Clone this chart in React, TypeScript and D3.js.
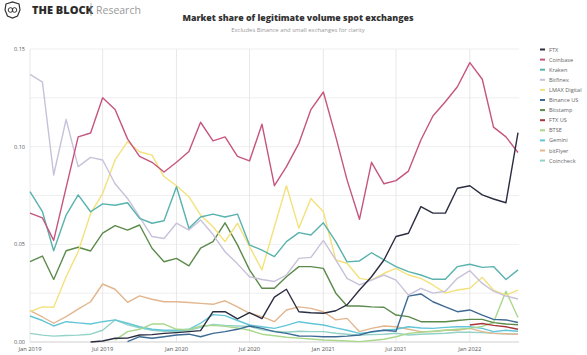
import React from "react";
import * as d3 from "d3";

const months = [
  "2019-01","2019-02","2019-03","2019-04","2019-05","2019-06","2019-07","2019-08","2019-09","2019-10","2019-11","2019-12",
  "2020-01","2020-02","2020-03","2020-04","2020-05","2020-06","2020-07","2020-08","2020-09","2020-10","2020-11","2020-12",
  "2021-01","2021-02","2021-03","2021-04","2021-05","2021-06","2021-07","2021-08","2021-09","2021-10","2021-11","2021-12",
  "2022-01","2022-02","2022-03","2022-04","2022-05",
];

const N = null;

const ftx = [N,N,N,N,N,0.0,0.0005,0.0019,0.002,0.0036,0.0038,0.0044,0.0048,0.0053,0.0058,0.0155,0.0155,0.0118,0.015,0.012,0.023,0.027,0.0155,0.015,0.0147,0.016,0.019,0.0266,0.0334,0.042,0.054,0.0557,0.0693,0.066,0.066,0.0787,0.08,0.0753,0.0732,0.0713,0.1072];
const coinbase = [0.066,0.0635,0.052,0.079,0.105,0.107,0.125,0.119,0.104,0.095,0.092,0.087,0.092,0.0975,0.1125,0.103,0.105,0.095,0.0927,0.1115,0.08,0.0898,0.1017,0.119,0.128,0.105,0.083,0.0628,0.092,0.081,0.0826,0.0875,0.1034,0.1157,0.123,0.1307,0.143,0.1345,0.11,0.105,0.097];
const kraken = [0.077,0.0667,0.0467,0.065,0.0753,0.0667,0.0707,0.07,0.0713,0.0633,0.0608,0.0621,0.0795,0.0582,0.064,0.0655,0.064,0.0655,0.0497,0.047,0.0437,0.0514,0.056,0.0548,0.061,0.0514,0.041,0.0415,0.0457,0.042,0.0386,0.036,0.0343,0.0321,0.0321,0.0386,0.0398,0.0382,0.0386,0.032,0.0369];
const bitfinex = [0.137,0.133,0.0855,0.114,0.0898,0.0945,0.0932,0.081,0.0735,0.064,0.054,0.053,0.0608,0.0573,0.0625,0.055,0.0462,0.04,0.0334,0.032,0.031,0.0343,0.0428,0.0433,0.052,0.042,0.0326,0.0292,0.0317,0.0343,0.0317,0.024,0.0275,0.025,0.026,0.0326,0.0365,0.03,0.026,0.0235,0.022];
const lmax = [0.0155,0.018,0.0178,0.0334,0.0462,0.0658,0.076,0.0932,0.1026,0.0974,0.0957,0.0847,0.08,0.0744,0.065,0.059,0.0514,0.0608,0.0488,0.0369,0.059,0.08,0.0583,0.0735,0.0667,0.042,0.0403,0.0326,0.0317,0.0352,0.0377,0.0343,0.0326,0.0292,0.025,0.0266,0.0275,0.0331,0.0266,0.024,0.0266];
const binanceUS = [N,N,N,N,N,N,N,N,0.0002,0.0027,0.0019,0.0027,0.0036,0.004,0.0027,0.0044,0.0053,0.0065,0.0082,0.007,0.0053,0.0044,0.0031,0.003,0.0027,0.0027,0.003,0.0036,0.0053,0.006,0.0055,0.0235,0.0246,0.0206,0.018,0.0155,0.0164,0.0138,0.0116,0.0113,0.01];
const bitstamp = [0.0411,0.044,0.032,0.0467,0.0485,0.0466,0.0557,0.0596,0.0573,0.0599,0.048,0.0411,0.0428,0.039,0.048,0.0514,0.061,0.0497,0.0369,0.0275,0.0275,0.0334,0.0386,0.0386,0.0377,0.025,0.0184,0.0184,0.018,0.0178,0.0138,0.013,0.0104,0.0104,0.0104,0.011,0.0116,0.0116,0.0099,0.0092,0.0088];
const ftxUS = [N,N,N,N,N,N,N,N,N,N,N,N,N,N,N,N,N,N,N,N,N,N,N,N,N,N,N,N,N,N,N,N,N,N,N,N,0.0087,0.0095,0.0085,0.0078,0.0065];
const btse = [N,N,N,N,N,N,N,0.001,0.0053,0.0065,0.0092,0.0092,0.0065,0.0063,0.0082,0.0085,0.008,0.0072,0.006,0.004,0.0032,0.0024,0.002,0.0015,0.001,0.0008,0.0005,0.0002,0.0008,0.0014,0.0027,0.0044,0.005,0.0055,0.006,0.0065,0.007,0.008,0.01,0.026,0.0125];
const gemini = [0.0133,0.011,0.0082,0.0104,0.0098,0.0092,0.0104,0.0113,0.0096,0.0078,0.0065,0.006,0.006,0.0065,0.0096,0.014,0.0135,0.011,0.0087,0.0078,0.007,0.0085,0.0104,0.0095,0.0087,0.0072,0.006,0.0044,0.005,0.006,0.0065,0.0078,0.0072,0.007,0.0075,0.0078,0.0078,0.007,0.0053,0.006,0.0055];
const bitflyer = [0.016,0.0128,0.0096,0.013,0.0168,0.0206,0.0297,0.027,0.0203,0.0236,0.0219,0.0206,0.0206,0.0202,0.0198,0.0193,0.0211,0.018,0.0147,0.013,0.0104,0.0164,0.018,0.0172,0.0155,0.0113,0.0121,0.0053,0.007,0.0082,0.0078,0.0065,0.0053,0.0053,0.006,0.006,0.007,0.0053,0.0044,0.0042,0.004];
const coincheck = [0.0044,0.0035,0.003,0.0033,0.0035,0.004,0.006,0.0113,0.0088,0.0072,0.006,0.0055,0.0055,0.006,0.0075,0.009,0.0085,0.0082,0.008,0.0062,0.0055,0.005,0.0055,0.0053,0.0053,0.0045,0.004,0.0035,0.0038,0.004,0.0045,0.0036,0.004,0.0042,0.0045,0.005,0.005,0.0048,0.0045,0.0042,0.004];

const seriesNames = ["FTX","Coinbase","Kraken","Bitfinex","LMAX Digital","Binance US","Bitstamp","FTX US","BTSE","Gemini","bitFlyer","Coincheck"];
const seriesValues = [ftx, coinbase, kraken, bitfinex, lmax, binanceUS, bitstamp, ftxUS, btse, gemini, bitflyer, coincheck];
const seriesColors = ["#2b2d40","#c5557f","#58b2ad","#c8c1da","#f3e27c","#3e6a93","#5c8a4b","#a8363c","#a9d88c","#62c6d8","#e2b68e","#92d2c7"];

const yTicks = [0, 0.05, 0.1, 0.15];
const yGrid = [0, 0.025, 0.05, 0.075, 0.1, 0.125, 0.15];
const xTickLabels = ["Jan 2019","Jul 2019","Jan 2020","Jul 2020","Jan 2021","Jul 2021","Jan 2022"];
const xTickDates = ["2019-01","2019-07","2020-01","2020-07","2021-01","2021-07","2022-01"];

const parse = d3.utcParse("%Y-%m");

export default function App() {
  const W = 587, H = 355;
  const x = d3.scaleUtc().domain([parse("2019-01")!, parse("2022-05")!]).range([30, 518]);
  const y = d3.scaleLinear().domain([0, 0.15]).range([342, 49]);
  const xEnd = 519;
  const dates = months.map((m) => parse(m)!);
  const line = d3
    .line<number | null>()
    .defined((d) => d !== null)
    .x((_, i) => x(dates[i]))
    .y((d) => y(d as number));

  const drawOrder = [11, 10, 9, 8, 7, 6, 5, 4, 3, 2, 1, 0];

  return (
    <svg width={W} height={H} style={{ position: "absolute", left: 0, top: 0, background: "#fff" }} fontFamily="'Open Sans', sans-serif">
      <rect x={0} y={0} width={W} height={H} fill="#fff" />
      {/* logo */}
      <g>
        <polygon points="6,4 12.5,2 19,4 20,10 17.5,16 12.5,18 7.5,16 5,10" fill="none" stroke="#333" strokeWidth={1.2} />
        <circle cx={10.5} cy={10} r={2.3} fill="none" stroke="#333" strokeWidth={1} />
        <circle cx={14.5} cy={10} r={2.3} fill="none" stroke="#333" strokeWidth={1} />
        <text x={32} y={14} fontSize={11} fontWeight={800} fill="#2a2a2a" fontFamily="'Open Sans', sans-serif">THE BLOCK</text>
        <line x1={91} y1={3} x2={91} y2={16} stroke="#aaa" strokeWidth={0.8} />
        <text x={96} y={14} fontSize={10.5} fill="#999" fontFamily="'Open Sans', sans-serif">Research</text>
      </g>
      <text x={298} y={21} textAnchor="middle" fontSize={8.8} fontWeight={800} fill="#333">Market share of legitimate volume spot exchanges</text>
      <text x={298} y={32} textAnchor="middle" fontSize={5.9} fill="#999">Excludes Binance and small exchanges for clarity</text>

      {/* grid */}
      {yGrid.map((v) => (
        <line key={"gy" + v} x1={30} x2={xEnd} y1={y(v)} y2={y(v)} stroke="#ebebeb" strokeWidth={0.8} />
      ))}
      {xTickDates.map((m) => (
        <line key={"gx" + m} x1={x(parse(m)!)} x2={x(parse(m)!)} y1={49} y2={342} stroke="#e2e2e2" strokeWidth={0.8} />
      ))}
      <line x1={30} x2={xEnd} y1={342} y2={342} stroke="#cfcfcf" strokeWidth={0.8} />

      {yTicks.map((v) => (
        <text key={"yt" + v} x={25} y={y(v) + 2} textAnchor="end" fontSize={5.5} fill="#555">{v.toFixed(2)}</text>
      ))}
      {xTickDates.map((m, i) => (
        <text key={"xt" + m} x={x(parse(m)!)} y={351} textAnchor="middle" fontSize={5.8} fill="#555">{xTickLabels[i]}</text>
      ))}

      {drawOrder.map((k) => (
        <path key={seriesNames[k]} d={line(seriesValues[k]) || ""} fill="none" stroke={seriesColors[k]} strokeWidth={1.4} strokeLinejoin="round" />
      ))}

      {seriesNames.map((name, i) => (
        <g key={"lg" + name} transform={`translate(540, ${49.5 + i * 10.1})`}>
          <line x1={0} x2={5} y1={0} y2={0} stroke={seriesColors[i]} strokeWidth={2} />
          <text x={9} y={2} fontSize={5.6} fill="#666">{name}</text>
        </g>
      ))}
    </svg>
  );
}
